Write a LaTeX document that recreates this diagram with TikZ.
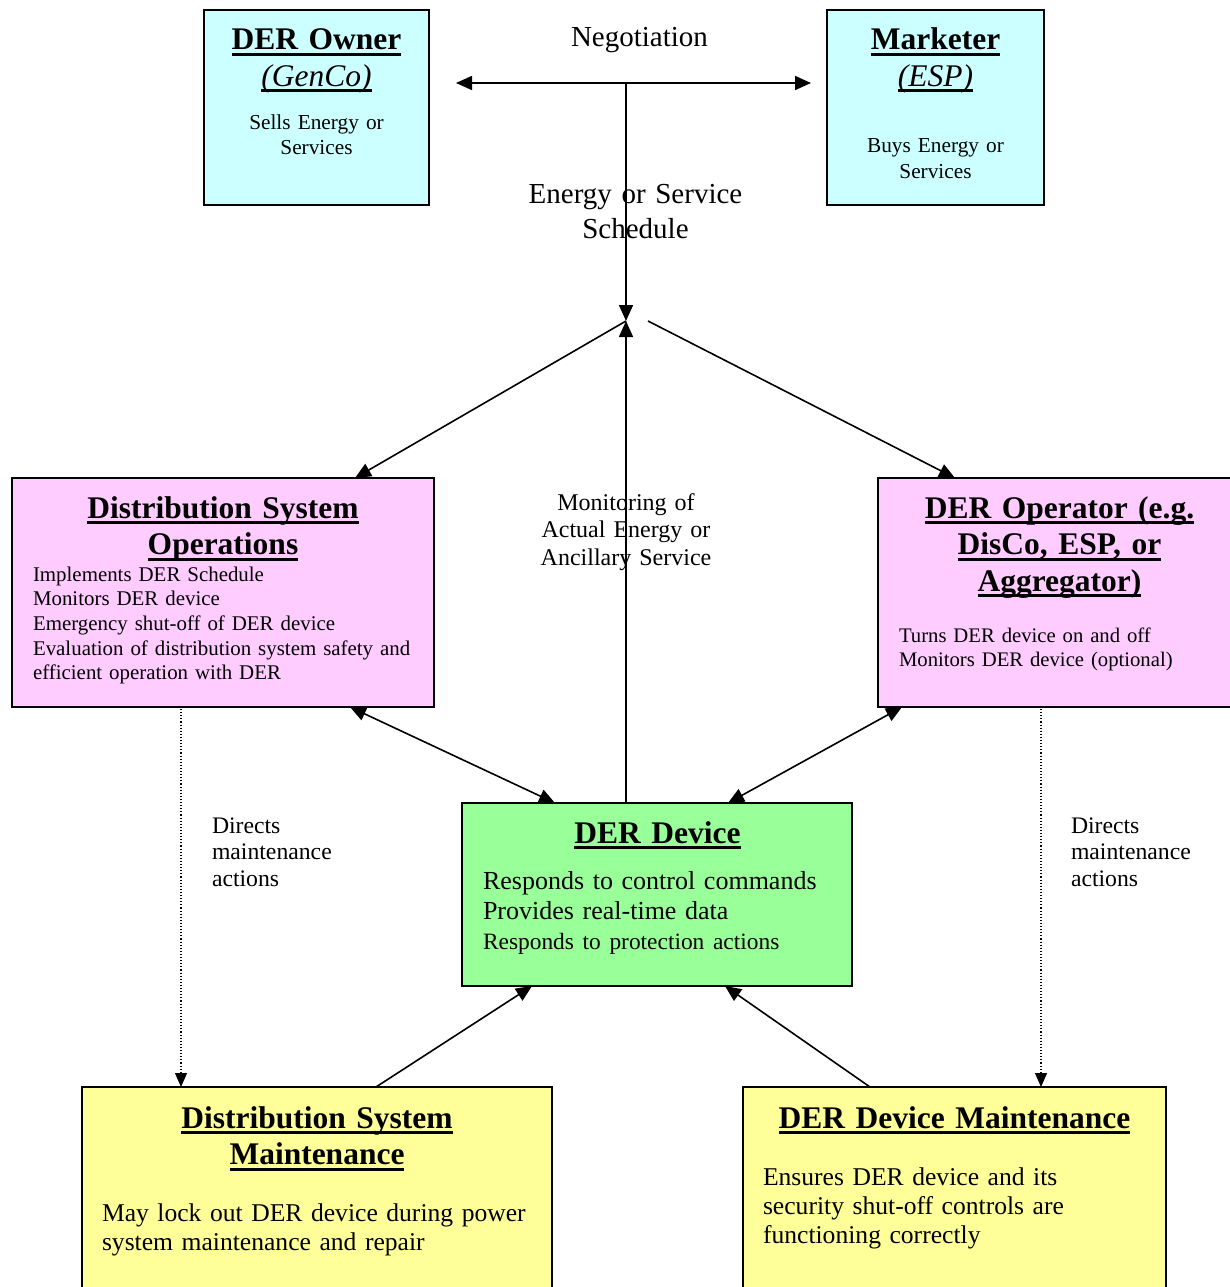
\documentclass[tikz,border=0pt]{standalone}
\usepackage{fontspec}
\setmainfont{Liberation Serif}
\usetikzlibrary{arrows.meta}

\definecolor{ownercyan}{HTML}{CCFFFF}
\definecolor{opspink}{HTML}{FFCCFF}
\definecolor{devgreen}{HTML}{99FF99}
\definecolor{mainyellow}{HTML}{FFFF99}

\newcommand{\titlefont}{\fontsize{31.5}{36.5}\selectfont\bfseries}
\newcommand{\bodyfont}{\fontsize{20.9}{24.7}\selectfont}
% heavy title underline
\newcommand{\tul}[1]{\leavevmode\setbox0\hbox{#1}\rlap{\rule[-6pt]{\wd0}{3pt}}\box0}

\tikzset{
  box/.style={draw=black, line width=1.6pt, anchor=north west, inner sep=0pt, outer sep=0pt},
  txt/.style={inner sep=0pt, outer sep=0pt},
  ctitle/.style={txt, anchor=base, align=center, font=\titlefont},
  ctext/.style={txt, anchor=base, align=center},
  lblock/.style={txt, anchor=base west, align=left, text width=460pt},
  link/.style={line width=1.6pt, -{Triangle[length=16pt,width=14pt]}},
  dlink/.style={line width=1.6pt, {Triangle[length=16pt,width=14pt]}-{Triangle[length=16pt,width=14pt]}},
  dotlink/.style={line width=1.1pt, dotted, -{Triangle[length=14pt,width=12pt]}},
}

\begin{document}
\begin{tikzpicture}[x=1pt,y=-1pt]
\useasboundingbox (0,0) rectangle (1230,1287);

% boxes
\node[box, fill=ownercyan, minimum width=225pt, minimum height=195pt] (owner) at (204,10) {};
\node[box, fill=ownercyan, minimum width=217pt, minimum height=195pt] (market) at (827,10) {};
\node[box, fill=opspink, minimum width=422pt, minimum height=229pt] (dso) at (12,478) {};
\node[box, fill=opspink, minimum width=362pt, minimum height=229pt] (derop) at (878,478) {};
\node[box, fill=devgreen, minimum width=390pt, minimum height=183pt] (der) at (462,803) {};
\node[box, fill=mainyellow, minimum width=470pt, minimum height=220pt] (dsm) at (82,1087) {};
\node[box, fill=mainyellow, minimum width=423pt, minimum height=220pt] (ddm) at (743,1087) {};

% box texts
\node[ctitle, text width=220pt] (ownertitle) at (316.5,50)
  {\tul{DER Owner}\\\mdseries\itshape\tul{(GenCo)}};
\node[ctext, text width=220pt, font=\fontsize{21.3}{25}\selectfont] (ownerbody) at (316.5,129)
  {Sells Energy or\\Services};

\node[ctitle, text width=215pt] (markettitle) at (935.5,50)
  {\tul{Marketer}\\\mdseries\itshape\tul{(ESP)}};
\node[ctext, text width=215pt, font=\fontsize{21.3}{25}\selectfont] (marketbody) at (935.5,153)
  {Buys Energy or\\Services};

\node[ctitle, text width=415pt] (dsotitle) at (223,518)
  {\tul{Distribution System}\\\tul{Operations}};
\node[lblock, font=\bodyfont] (dsobody) at (33,581)
  {Implements DER Schedule\\Monitors DER device\\Emergency shut-off of DER device\\Evaluation of distribution system safety and\\efficient operation with DER};

\node[ctitle, text width=360pt] (deroptitle) at (1059.5,518)
  {\tul{DER Operator (e.g.}\\\tul{DisCo, ESP, or}\\\tul{Aggregator)}};
\node[lblock, font=\fontsize{20.7}{24.7}\selectfont] (deropbody) at (899,642)
  {Turns DER device on and off\\Monitors DER device (optional)};

\node[ctitle, text width=380pt] (dertitle) at (657.5,843) {\tul{DER Device}};
\node[lblock, font=\fontsize{26}{30}\selectfont] (derbody) at (483,889)
  {Responds to control commands\\Provides real-time data\\\fontsize{23.4}{30}\selectfont Responds to protection actions};

\node[ctitle, text width=460pt] (dsmtitle) at (317,1128)
  {\tul{Distribution System}\\\tul{Maintenance}};
\node[lblock, font=\fontsize{25.6}{29}\selectfont] (dsmbody) at (102,1221)
  {May lock out DER device during power\\system maintenance and repair};

\node[ctitle, text width=420pt] (ddmtitle) at (954.5,1128) {\tul{DER Device Maintenance}};
\node[lblock, font=\fontsize{25.6}{29}\selectfont] (ddmbody) at (763,1185)
  {Ensures DER device and its\\security shut-off controls are\\functioning correctly};

% free labels
\node[ctext, font=\fontsize{29}{35}\selectfont] (nego) at (639.5,47) {Negotiation};
\node[ctext, text width=300pt, font=\fontsize{29}{35}\selectfont] (sched) at (635.5,203)
  {Energy or Service\\Schedule};
\node[ctext, text width=250pt, font=\fontsize{24}{27.5}\selectfont] (monitor) at (626,510)
  {Monitoring of\\Actual Energy or\\Ancillary Service};
\node[lblock, text width=150pt, font=\fontsize{23.7}{26.5}\selectfont] (dirleft) at (212,833)
  {Directs\\maintenance\\actions};
\node[lblock, text width=150pt, font=\fontsize{23.7}{26.5}\selectfont] (dirright) at (1071,833)
  {Directs\\maintenance\\actions};

% junction points
\coordinate (negL) at (456,83);
\coordinate (negR) at (811,83);
\coordinate (negM) at (626,83);
\coordinate (hub) at (626,321);
\coordinate (hubR) at (648,321);

% connectors
\draw[dlink] (negL) -- (negR);
\draw[link] (negM) -- (hub);
\draw[link] ([xshift=164pt]der.north west) -- (hub);
\draw[link] (hub) -- ([xshift=343pt]dso.north west);
\draw[link] (hubR) -- ([xshift=77pt]derop.north west);
\draw[dlink] ([xshift=338pt]dso.south west) -- ([xshift=93pt]der.north west);
\draw[dlink] ([xshift=24pt]derop.south west) -- ([xshift=266pt]der.north west);
\draw[link] ([xshift=294pt]dsm.north west) -- ([xshift=70pt]der.south west);
\draw[link] ([xshift=127pt]ddm.north west) -- ([xshift=263pt]der.south west);
\draw[dotlink] ([xshift=169pt,yshift=-2pt]dso.south west) -- ([xshift=99pt]dsm.north west);
\draw[dotlink] ([xshift=163pt,yshift=-2pt]derop.south west) -- ([xshift=298pt]ddm.north west);
\end{tikzpicture}
\end{document}
